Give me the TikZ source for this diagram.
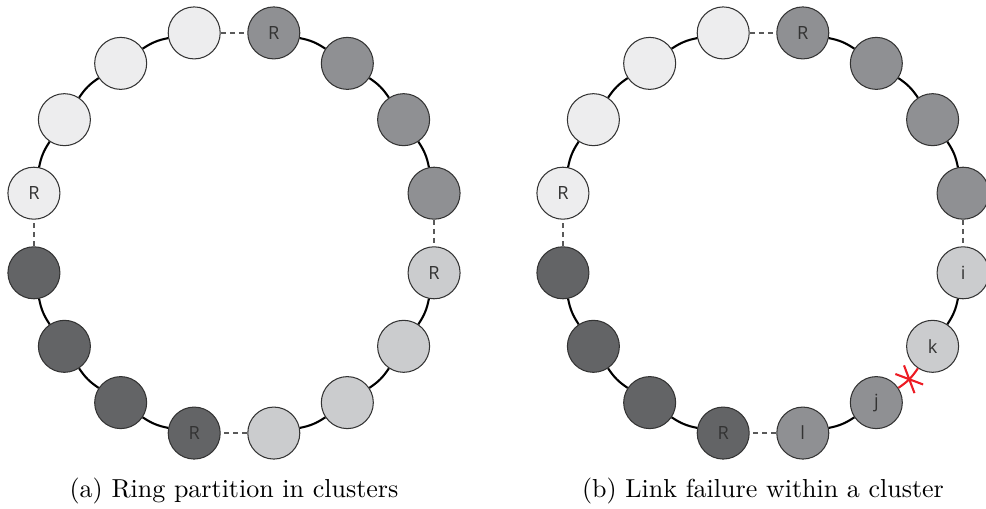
\documentclass[tikz,border=0pt]{standalone}
\usepackage{fontspec}
\newfontfamily\peerfont{Open Sans}
\usetikzlibrary{shapes.misc,calc,positioning}

\definecolor{clustA}{HTML}{EDEDEE}
\definecolor{clustB}{HTML}{8F9093}
\definecolor{clustC}{HTML}{CBCCCE}
\definecolor{clustD}{HTML}{636466}
\definecolor{failred}{HTML}{ED1C24}

\begin{document}
\begin{tikzpicture}[x=0.3846pt,y=0.3846pt,
  peer/.style={circle,draw=black!80,line width=0.4pt,minimum size=20pt,inner sep=0pt,
    font=\peerfont\fontsize{7}{8}\selectfont,text=black!80},
  link/.style={line width=0.8pt,bend left=11.25},
  gap/.style={black!65,line width=0.5pt,dash pattern=on 2pt off 1.5pt}]

  \useasboundingbox (0,0) rectangle (986,509);
  \coordinate (ca) at (234,276);
  \coordinate (cb) at (763,276);

  % ring partitioned in four clusters
  \foreach \i/\c/\t in {0/clustB/R,1/clustB/,2/clustB/,3/clustB/,
                        4/clustC/R,5/clustC/,6/clustC/,7/clustC/,
                        8/clustD/R,9/clustD/,10/clustD/,11/clustD/,
                        12/clustA/R,13/clustA/,14/clustA/,15/clustA/}
    \node[peer,fill=\c] (a\i) at ($(ca)+({78.75-22.5*\i}:204)$) {\t};

  \foreach \i/\j in {0/1,1/2,2/3,4/5,5/6,6/7,8/9,9/10,10/11,12/13,13/14,14/15}
    \draw[link] (a\i) to (a\j);
  \foreach \i/\j in {3/4,7/8,11/12,15/0}
    \draw[gap] (a\i) -- (a\j);

  % same ring, link k--j broken
  \foreach \i/\c/\t in {0/clustB/R,1/clustB/,2/clustB/,3/clustB/,
                        4/clustC/i,5/clustC/k,6/clustB/j,7/clustB/l,
                        8/clustD/R,9/clustD/,10/clustD/,11/clustD/,
                        12/clustA/R,13/clustA/,14/clustA/,15/clustA/}
    \node[peer,fill=\c] (b\i) at ($(cb)+({78.75-22.5*\i}:204)$) {\t};

  \foreach \i/\j in {0/1,1/2,2/3,4/5,6/7,8/9,9/10,10/11,12/13,13/14,14/15}
    \draw[link] (b\i) to (b\j);
  \foreach \i/\j in {3/4,7/8,11/12,15/0}
    \draw[gap] (b\i) -- (b\j);
  \draw[link,failred] (b5) to node[sloped,cross out,draw=failred,line width=0.8pt,
    inner sep=0pt,minimum width=3.9pt,minimum height=9.6pt] (cut) {} (b6);

  \node[anchor=base] (capa) at (234,11.5) {(a) Ring partition in clusters};
  \node[anchor=base] (capb) at (763,11.5) {(b) Link failure within a cluster};
\end{tikzpicture}
\end{document}
